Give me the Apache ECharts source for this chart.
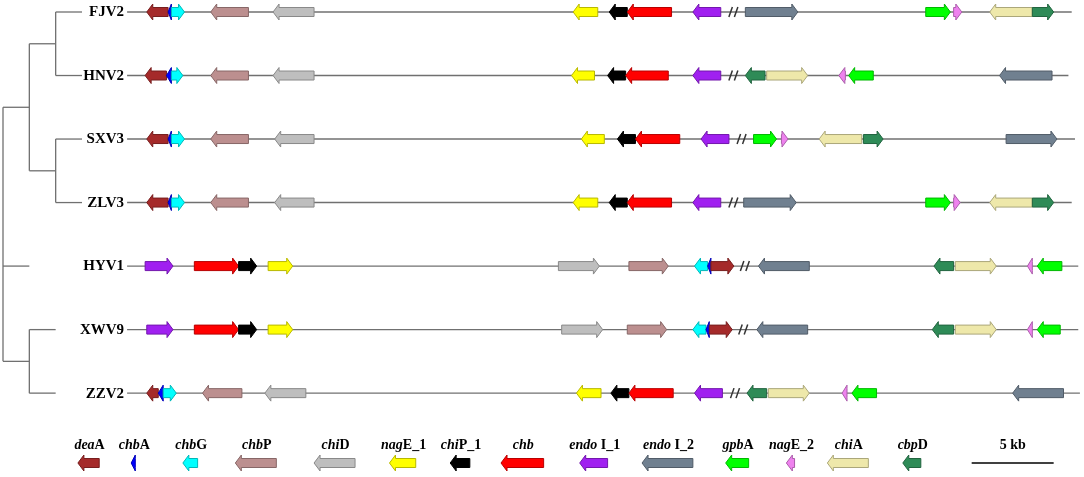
<!DOCTYPE html>
<html>
<head>
<meta charset="utf-8">
<script src="https://cdn.jsdelivr.net/npm/echarts@6/dist/echarts.min.js"></script>
<style>
  html, body { margin: 0; padding: 0; background: #fff; }
  #main { width: 1084px; height: 477px; }
</style>
</head>
<body>
<div id="main"></div>
<script>
// strains, top to bottom
const strains = ['FJV2', 'HNV2', 'SXV3', 'ZLV3', 'HYV1', 'XWV9', 'ZZV2'];
// backbone length of each strain (kb)
const lineEnds = [57.6, 57.4, 57.8, 57.6, 58.0, 58.0, 58.1];
// position of the "//" break on each backbone (kb)
const breaks = [37.0, 37.0, 37.5, 37.0, 37.7, 37.6, 37.1];

// genes: [name, start kb, end kb, strand]
const fjv2Genes = [
  ['deaA', 1.2, 2.5, -1], ['chbA', 2.5, 2.7, -1], ['chbG', 2.7, 3.5, 1],
  ['chbP', 5.1, 7.4, -1], ['chiD', 8.9, 11.4, -1], ['nagE_1', 27.2, 28.7, -1],
  ['chiP_1', 29.4, 30.5, -1], ['chb', 30.5, 33.2, -1], ['endoI_1', 34.5, 36.2, -1],
  ['endoI_2', 37.7, 40.9, 1], ['gpbA', 48.7, 50.2, 1], ['nagE_2', 50.4, 50.9, 1],
  ['chiA', 52.6, 55.2, -1], ['cbpD', 55.2, 56.5, 1]
];
const hnv2Genes = [
  ['deaA', 1.1, 2.4, -1], ['chbA', 2.4, 2.7, -1], ['chbG', 2.7, 3.4, 1],
  ['chbP', 5.1, 7.4, -1], ['chiD', 8.9, 11.4, -1], ['nagE_1', 27.1, 28.5, -1],
  ['chiP_1', 29.3, 30.4, -1], ['chb', 30.4, 33.0, -1], ['endoI_1', 34.5, 36.2, -1],
  ['cbpD', 37.7, 38.9, -1], ['chiA', 39.0, 41.5, 1], ['nagE_2', 43.4, 43.8, -1],
  ['gpbA', 44.0, 45.5, -1], ['endoI_2', 53.2, 56.4, -1]
];
const sxv3Genes = [
  ['deaA', 1.2, 2.5, -1], ['chbA', 2.5, 2.7, -1], ['chbG', 2.7, 3.5, 1],
  ['chbP', 5.1, 7.4, -1], ['chiD', 9.0, 11.4, -1], ['nagE_1', 27.7, 29.1, -1],
  ['chiP_1', 29.9, 31.0, -1], ['chb', 31.0, 33.7, -1], ['endoI_1', 35.0, 36.7, -1],
  ['gpbA', 38.2, 39.6, 1], ['nagE_2', 39.9, 40.3, 1], ['chiA', 42.2, 44.8, -1],
  ['cbpD', 44.9, 46.1, 1], ['endoI_2', 53.6, 56.7, 1]
];
const zlv3Genes = [
  ['deaA', 1.2, 2.5, -1], ['chbA', 2.5, 2.7, -1], ['chbG', 2.7, 3.5, 1],
  ['chbP', 5.1, 7.4, -1], ['chiD', 9.0, 11.4, -1], ['nagE_1', 27.2, 28.7, -1],
  ['chiP_1', 29.4, 30.5, -1], ['chb', 30.5, 33.2, -1], ['endoI_1', 34.5, 36.2, -1],
  ['endoI_2', 37.6, 40.8, 1], ['gpbA', 48.7, 50.2, 1], ['nagE_2', 50.4, 50.8, 1],
  ['chiA', 52.6, 55.2, -1], ['cbpD', 55.2, 56.5, 1]
];
const hyv1Genes = [
  ['endoI_1', 1.1, 2.8, 1], ['chb', 4.1, 6.8, 1], ['chiP_1', 6.8, 7.9, 1],
  ['nagE_1', 8.6, 10.1, 1], ['chiD', 26.3, 28.8, 1], ['chbP', 30.6, 33.0, 1],
  ['chbG', 34.6, 35.4, -1], ['chbA', 35.4, 35.6, -1], ['deaA', 35.6, 37.0, 1],
  ['endoI_2', 38.5, 41.6, -1], ['cbpD', 49.2, 50.4, -1], ['chiA', 50.5, 53.0, 1],
  ['nagE_2', 54.9, 55.2, -1], ['gpbA', 55.5, 57.0, -1]
];
const xwv9Genes = [
  ['endoI_1', 1.2, 2.8, 1], ['chb', 4.1, 6.8, 1], ['chiP_1', 6.8, 7.9, 1],
  ['nagE_1', 8.6, 10.1, 1], ['chiD', 26.5, 29.0, 1], ['chbP', 30.5, 32.9, 1],
  ['chbG', 34.5, 35.3, -1], ['chbA', 35.3, 35.5, -1], ['deaA', 35.5, 36.9, 1],
  ['endoI_2', 38.4, 41.5, -1], ['cbpD', 49.1, 50.4, -1], ['chiA', 50.5, 53.0, 1],
  ['nagE_2', 54.9, 55.2, -1], ['gpbA', 55.5, 56.9, -1]
];
const zzv2Genes = [
  ['deaA', 1.2, 1.9, -1], ['chbA', 1.9, 2.2, -1], ['chbG', 2.2, 3.0, 1],
  ['chbP', 4.6, 7.0, -1], ['chiD', 8.4, 10.9, -1], ['nagE_1', 27.4, 28.9, -1],
  ['chiP_1', 29.5, 30.6, -1], ['chb', 30.6, 33.3, -1], ['endoI_1', 34.6, 36.3, -1],
  ['cbpD', 37.8, 39.0, -1], ['chiA', 39.1, 41.6, 1], ['nagE_2', 43.6, 43.9, -1],
  ['gpbA', 44.2, 45.7, -1], ['endoI_2', 54.0, 57.1, -1]
];
const strainGenes = [fjv2Genes, hnv2Genes, sxv3Genes, zlv3Genes, hyv1Genes, xwv9Genes, zzv2Genes];

// legend: gene, italic part, plain part, start kb, end kb
const legendGenes = ['deaA', 'chbA', 'chbG', 'chbP', 'chiD', 'nagE_1', 'chiP_1', 'chb', 'endoI_1', 'endoI_2', 'gpbA', 'nagE_2', 'chiA', 'cbpD'];
const legendItalic = ['dea', 'chb', 'chb', 'chb', 'chi', 'nag', 'chi', 'chb', 'endo', 'endo', 'gpb', 'nag', 'chi', 'cbp'];
const legendPlain = ['A', 'A', 'G', 'P', 'D', 'E_1', 'P_1', '', ' I_1', ' I_2', 'A', 'E_2', 'A', 'D'];
const legendStart = [-3.0, 0.25, 3.4, 6.6, 11.4, 16.0, 19.7, 22.8, 27.6, 31.4, 36.5, 40.2, 42.7, 47.3];
const legendEnd = [-1.7, 0.5, 4.3, 9.1, 13.9, 17.6, 20.9, 25.4, 29.3, 34.5, 37.9, 40.7, 45.2, 48.4];
const scaleBar = [51.5, 5]; // start kb, length kb

// tree: parent and depth of each node (leaves are strains)
const treeParent = { A: 'root', B: 'A', C: 'A', D: 'root', FJV2: 'B', HNV2: 'B', SXV3: 'C', ZLV3: 'C', HYV1: 'root', XWV9: 'D', ZZV2: 'D' };
const treeDepth = { root: 0, A: 1, B: 2, C: 2, D: 1, FJV2: 3, HNV2: 3, SXV3: 3, ZLV3: 3, HYV1: 1, XWV9: 2, ZZV2: 2 };

const geneColors = {
  deaA: '#a52a2a', chbA: '#0000ff', chbG: '#00ffff', chbP: '#bc8f8f', chiD: '#bebebe',
  nagE_1: '#ffff00', chiP_1: '#000000', chb: '#ff0000', endoI_1: '#a020f0', endoI_2: '#708090',
  gpbA: '#00ff00', nagE_2: '#ee82ee', chiA: '#eee8aa', cbpD: '#2e8b57'
};
const LEGEND_ROW = 7.1;
const SERIF = '"Times New Roman", "Liberation Serif", serif';

function darker(c) {
  const rgb = echarts.color.parse(c);
  return 'rgb(' + [0, 1, 2].map(i => Math.round(rgb[i] * 0.72)).join(',') + ')';
}

// gene data: [start, end, row, strand, geneIndex]
const geneData = [];
strainGenes.forEach((genes, row) => {
  genes.forEach(g => geneData.push([g[1], g[2], row, g[3], legendGenes.indexOf(g[0])]));
});
const legendData = legendGenes.map((g, i) => [legendStart[i], legendEnd[i], LEGEND_ROW, -1, i]);

// tree segments
const childrenOf = {};
Object.keys(treeParent).forEach(n => {
  (childrenOf[treeParent[n]] = childrenOf[treeParent[n]] || []).push(n);
});
const nodeY = {};
function yOf(n) {
  if (nodeY[n] !== undefined) return nodeY[n];
  const kids = childrenOf[n];
  nodeY[n] = kids ? kids.map(yOf).reduce((a, b) => a + b, 0) / kids.length : strains.indexOf(n);
  return nodeY[n];
}
yOf('root');
const treeData = [];
Object.keys(treeParent).forEach(n => {
  treeData.push([treeDepth[treeParent[n]], yOf(n), treeDepth[n], yOf(n)]);
});
Object.keys(childrenOf).forEach(n => {
  const ys = childrenOf[n].map(yOf);
  treeData.push([treeDepth[n], Math.min(...ys), treeDepth[n], Math.max(...ys)]);
});

function arrowItem(params, api) {
  const s = api.coord([api.value(0), api.value(2)]);
  const e = api.coord([api.value(1), api.value(2)]);
  const dir = api.value(3);
  const color = geneColors[legendGenes[api.value(4)]];
  const y = s[1], x0 = s[0], x1 = e[0];
  const hl = Math.min(6, x1 - x0);
  const bh = 4.5, hh = 8;
  let pts;
  if (dir > 0) {
    pts = [[x0, y - bh], [x1 - hl, y - bh], [x1 - hl, y - hh], [x1, y], [x1 - hl, y + hh], [x1 - hl, y + bh], [x0, y + bh]];
  } else {
    pts = [[x1, y - bh], [x0 + hl, y - bh], [x0 + hl, y - hh], [x0, y], [x0 + hl, y + hh], [x0 + hl, y + bh], [x1, y + bh]];
  }
  return {
    type: 'polygon',
    shape: { points: pts },
    style: { fill: color, stroke: darker(color), lineWidth: 1 }
  };
}

const labelRich = {
  i: { fontFamily: SERIF, fontSize: 14, fontWeight: 'bold', fontStyle: 'italic', color: '#000' },
  n: { fontFamily: SERIF, fontSize: 14, fontWeight: 'bold', color: '#000' }
};

const option = {
  animation: false,
  grid: [
    { left: 0, right: 0, top: 12, bottom: 14 },
    { left: 3, width: 79, top: 12, bottom: 14 }
  ],
  xAxis: [
    { type: 'value', gridIndex: 0, min: -7.75, max: 58.35, show: false },
    { type: 'value', gridIndex: 1, min: 0, max: 3, show: false }
  ],
  yAxis: [
    { type: 'value', gridIndex: 0, min: 0, max: LEGEND_ROW, inverse: true, show: false },
    { type: 'value', gridIndex: 1, min: 0, max: LEGEND_ROW, inverse: true, show: false }
  ],
  series: [
    {
      // tree
      type: 'custom',
      xAxisIndex: 1,
      yAxisIndex: 1,
      data: treeData,
      renderItem: (params, api) => {
        const a = api.coord([api.value(0), api.value(1)]);
        const b = api.coord([api.value(2), api.value(3)]);
        return {
          type: 'line',
          shape: { x1: a[0], y1: a[1], x2: b[0], y2: b[1] },
          style: { stroke: '#707070', lineWidth: 1.3 }
        };
      }
    },
    {
      // backbones and strain names
      type: 'custom',
      data: strains.map((s, i) => [i, lineEnds[i]]),
      renderItem: (params, api) => {
        const a = api.coord([0, api.value(0)]);
        const b = api.coord([api.value(1), api.value(0)]);
        return {
          type: 'group',
          children: [
            {
              type: 'line',
              shape: { x1: a[0], y1: a[1], x2: b[0], y2: b[1] },
              style: { stroke: '#707070', lineWidth: 1.4 }
            },
            {
              type: 'text',
              style: {
                text: strains[params.dataIndex], x: a[0] - 3, y: a[1] + 0.5,
                align: 'right', verticalAlign: 'middle',
                fontFamily: SERIF, fontSize: 15, fontWeight: 'bold', fill: '#000'
              }
            }
          ]
        };
      }
    },
    {
      // "//" breaks
      type: 'custom',
      data: breaks.map((b, i) => [b, i]),
      renderItem: (params, api) => {
        const p = api.coord([api.value(0), api.value(1)]);
        const st = { stroke: '#333', lineWidth: 1.5 };
        return {
          type: 'group',
          children: [
            { type: 'line', shape: { x1: p[0] - 5, y1: p[1] + 5, x2: p[0] - 1.5, y2: p[1] - 5 }, style: st },
            { type: 'line', shape: { x1: p[0] + 0.5, y1: p[1] + 5, x2: p[0] + 4, y2: p[1] - 5 }, style: st }
          ]
        };
      }
    },
    {
      // genes
      type: 'custom',
      data: geneData,
      renderItem: arrowItem
    },
    {
      // legend arrows
      type: 'custom',
      data: legendData,
      renderItem: arrowItem
    },
    {
      // legend labels
      type: 'custom',
      data: legendData,
      renderItem: (params, api) => {
        const s = api.coord([api.value(0), api.value(2)]);
        const e = api.coord([api.value(1), api.value(2)]);
        const i = params.dataIndex;
        return {
          type: 'text',
          style: {
            text: '{i|' + legendItalic[i] + '}' + (legendPlain[i] ? '{n|' + legendPlain[i] + '}' : ''),
            rich: labelRich,
            x: (s[0] + e[0]) / 2 + 1, y: s[1] - 18,
            align: 'center', verticalAlign: 'middle'
          }
        };
      }
    },
    {
      // scale bar
      type: 'custom',
      data: [[scaleBar[0], scaleBar[0] + scaleBar[1], LEGEND_ROW]],
      renderItem: (params, api) => {
        const a = api.coord([api.value(0), api.value(2)]);
        const b = api.coord([api.value(1), api.value(2)]);
        return {
          type: 'group',
          children: [
            {
              type: 'line',
              shape: { x1: a[0], y1: a[1], x2: b[0], y2: b[1] },
              style: { stroke: '#000', lineWidth: 1.5 }
            },
            {
              type: 'text',
              style: {
                text: scaleBar[1] + ' kb', x: (a[0] + b[0]) / 2, y: a[1] - 18,
                align: 'center', verticalAlign: 'middle',
                fontFamily: SERIF, fontSize: 14, fontWeight: 'bold', fill: '#000'
              }
            }
          ]
        };
      }
    }
  ]
};

const chart = echarts.init(document.getElementById('main'));
chart.setOption(option);
</script>
</body>
</html>
